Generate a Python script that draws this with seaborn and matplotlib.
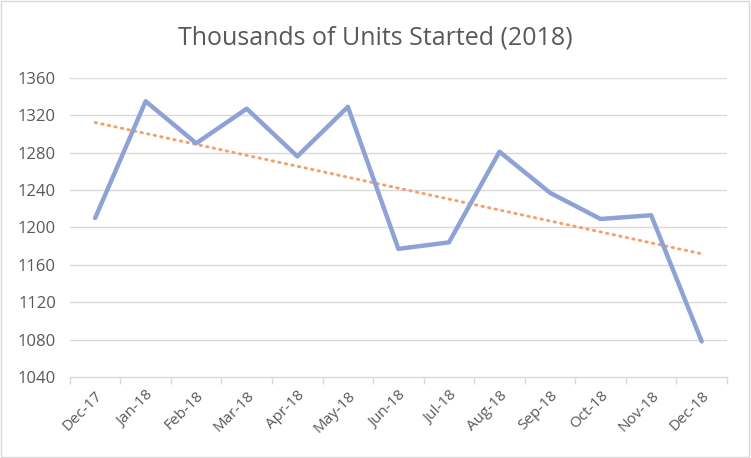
import numpy as np
import pandas as pd
import matplotlib
matplotlib.use("Agg")
import matplotlib.pyplot as plt
import seaborn as sns

months = ["Dec-17", "Jan-18", "Feb-18", "Mar-18", "Apr-18", "May-18", "Jun-18",
          "Jul-18", "Aug-18", "Sep-18", "Oct-18", "Nov-18", "Dec-18"]
units = [1210, 1335, 1290, 1327, 1276, 1329, 1177, 1184, 1281, 1237, 1209, 1213, 1078]
y_ticks = [1040, 1080, 1120, 1160, 1200, 1240, 1280, 1320, 1360]

sns.set_theme(style="white")
plt.rcParams["font.family"] = ["Open Sans", "DejaVu Sans"]

df = pd.DataFrame({"month": months, "units": units, "pos": np.arange(len(months))})

# linear trendline, like Excel's
slope, intercept = np.polyfit(df["pos"], df["units"], 1)
df["trend"] = slope * df["pos"] + intercept

fig = plt.figure(figsize=(7.51, 4.58), dpi=100)
ax = fig.add_axes([0.093, 0.177, 0.875, 0.653])

for y in y_ticks[1:]:
    ax.axhline(y, color="#d9d9d9", lw=1, zorder=0)

sns.lineplot(data=df, x="pos", y="units", color="#8ea2d6", lw=3.2, ax=ax, zorder=3)
sns.lineplot(data=df, x="pos", y="trend", color="#f4a06c", lw=2.1, ax=ax, zorder=2,
             linestyle=(0, (0.5, 1.8)), dash_capstyle="round")

ax.set_xlim(-0.5, 12.5)
ax.set_ylim(1040, 1360)
ax.set_yticks(y_ticks)
ax.set_yticklabels([str(v) for v in y_ticks])
ax.set_xticks(df["pos"])
ax.set_xticklabels(months, rotation=45, ha="right", rotation_mode="anchor")
ax.set_xticks(np.arange(-0.5, 13, 1), minor=True)
ax.tick_params(axis="x", which="major", length=0, pad=8, labelsize=11, colors="#595959")
ax.tick_params(axis="x", which="minor", length=5, color="#d9d9d9", width=1, direction="out", bottom=True)
ax.tick_params(axis="y", length=0, labelsize=12, colors="#595959", pad=10)
ax.set_xlabel("")
ax.set_ylabel("")

for s in ["top", "right", "left"]:
    ax.spines[s].set_visible(False)
ax.spines["bottom"].set_color("#d9d9d9")
ax.spines["bottom"].set_linewidth(1)

fig.text(0.5, 0.918, "Thousands of Units Started (2018)", ha="center", va="center",
         fontsize=18, color="#595959")

fig.patches.append(plt.Rectangle((0.001, 0.002), 0.997, 0.995, transform=fig.transFigure,
                                 fill=False, edgecolor="#d9d9d9", lw=1))

fig.savefig("out.png", dpi=100)
